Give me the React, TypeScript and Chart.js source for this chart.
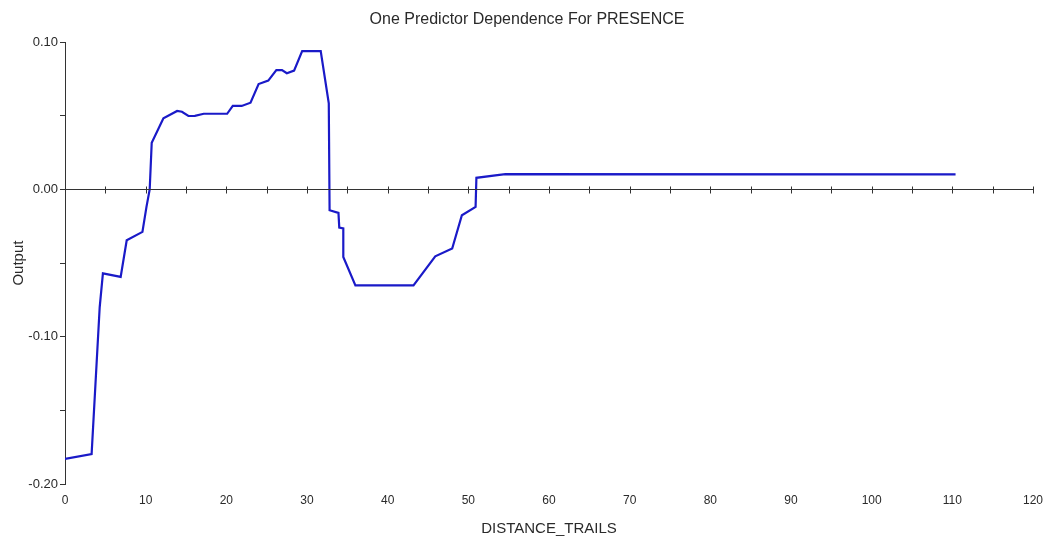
import React, { useEffect, useRef } from "react";
import { Chart, registerables } from "chart.js";

Chart.register(...registerables);

const TITLE = "One Predictor Dependence For PRESENCE";
const X_LABEL = "DISTANCE_TRAILS";
const Y_LABEL = "Output";

const distance = [
  0, 3.3, 4.3, 4.7, 6.9, 7.65, 9.6, 10.1, 10.5, 10.75, 12.2, 13.9, 14.5, 15.3, 16.1,
  17.2, 20.1, 20.8, 21.9, 23.0, 24.0, 25.2, 26.2, 26.9, 27.5, 28.4, 29.4, 31.7, 32.7,
  32.8, 33.9, 34.0, 34.5, 34.5, 36.0, 43.2, 45.9, 48.0, 49.2, 50.9, 51.0, 53.6, 54.6,
  110.4,
];
const output = [
  -0.183, -0.1796, -0.08, -0.057, -0.0594, -0.0345, -0.0288, -0.0118, 0.0, 0.0317,
  0.0483, 0.0533, 0.0528, 0.0499, 0.05, 0.0514, 0.0514, 0.0567, 0.0567, 0.0589, 0.0716,
  0.0739, 0.0811, 0.0811, 0.0789, 0.0807, 0.094, 0.094, 0.0585, -0.0141, -0.0159,
  -0.0259, -0.0265, -0.0458, -0.0651, -0.0651, -0.0454, -0.0401, -0.0175, -0.0118,
  0.0079, 0.0097, 0.0104, 0.0102,
];

const X_MIN = 0;
const X_MAX = 120;
const X_STEP = 10;
const X_MINOR_STEP = 5;
const Y_MIN = -0.2;
const Y_MAX = 0.1;
const Y_STEP = 0.05;

const FONT = "'Liberation Sans', Arial, sans-serif";
const TEXT = "#2a2a2a";
const AXIS = "#333333";

const zeroAxisPlugin = {
  id: "zeroAxis",
  afterDatasetsDraw(chart: any) {
    const xs = chart.scales.x;
    const ys = chart.scales.y;
    const ctx = chart.ctx;
    const y0 = Math.round(ys.getPixelForValue(0)) + 0.5;
    ctx.save();
    ctx.strokeStyle = AXIS;
    ctx.lineWidth = 1;
    ctx.beginPath();
    ctx.moveTo(xs.getPixelForValue(X_MIN), y0);
    ctx.lineTo(xs.getPixelForValue(X_MAX), y0);
    for (let v = X_MIN + X_MINOR_STEP; v <= X_MAX + 1e-9; v += X_MINOR_STEP) {
      const px = Math.round(xs.getPixelForValue(v)) + 0.5;
      ctx.moveTo(px, y0 - 3);
      ctx.lineTo(px, y0 + 4);
    }
    ctx.stroke();
    ctx.restore();
  },
};

export default function App() {
  const ref = useRef<HTMLCanvasElement | null>(null);

  useEffect(() => {
    if (!ref.current) return;
    const chart = new Chart(ref.current, {
      type: "line",
      data: {
        datasets: [
          {
            data: distance.map((d, i) => ({ x: d, y: output[i] })),
            borderColor: "#1a1ac8",
            borderWidth: 2.2,
            pointRadius: 0,
            tension: 0,
            fill: false,
          },
        ],
      },
      options: {
        animation: false,
        responsive: false,
        maintainAspectRatio: false,
        layout: { padding: 0 },
        plugins: {
          legend: { display: false },
          tooltip: { enabled: false },
          title: {
            display: true,
            text: TITLE,
            color: TEXT,
            font: { family: FONT, size: 16, weight: "normal" },
            padding: { top: 10, bottom: 13 },
          },
        },
        scales: {
          x: {
            type: "linear",
            min: X_MIN,
            max: X_MAX,
            border: { display: false },
            grid: { display: false, drawTicks: false },
            ticks: {
              stepSize: X_STEP,
              color: TEXT,
              font: { family: FONT, size: 12 },
              padding: 9,
              maxRotation: 0,
            },
            title: {
              display: true,
              text: X_LABEL,
              color: TEXT,
              font: { family: FONT, size: 15 },
              padding: { top: 8, bottom: 0 },
            },
            afterFit(scale: any) {
              scale.height = 54;
              scale.paddingRight = 21;
            },
          },
          y: {
            type: "linear",
            min: Y_MIN,
            max: Y_MAX,
            border: { display: true, color: AXIS, width: 1 },
            grid: {
              display: true,
              drawOnChartArea: false,
              drawTicks: true,
              tickLength: 5,
              color: AXIS,
            },
            ticks: {
              stepSize: Y_STEP,
              color: TEXT,
              font: { family: FONT, size: 13 },
              padding: 2,
              callback: (v: any) => {
                const n = Number(v);
                return Math.abs(n * 10 - Math.round(n * 10)) < 1e-6 ? n.toFixed(2) : "";
              },
            },
            title: {
              display: true,
              text: Y_LABEL,
              color: TEXT,
              font: { family: FONT, size: 15 },
              padding: { top: 10, bottom: 4 },
            },
            afterFit(scale: any) {
              scale.width = 65;
            },
          },
        },
      },
      plugins: [zeroAxisPlugin],
    });
    return () => chart.destroy();
  }, []);

  return (
    <div style={{ position: "fixed", left: 0, top: 0, width: 1054, height: 538, background: "#fff" }}>
      <canvas ref={ref} width={1054} height={538} style={{ width: 1054, height: 538, display: "block" }} />
    </div>
  );
}
